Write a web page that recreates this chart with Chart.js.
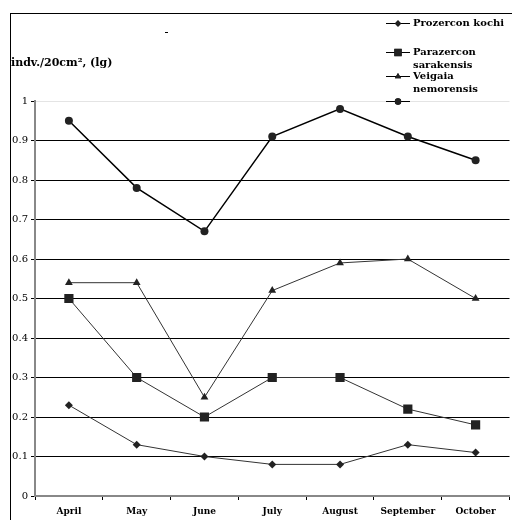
<!DOCTYPE html>
<html>
<head>
<meta charset="utf-8">
<script src="https://cdn.jsdelivr.net/npm/chart.js@4"></script>
<style>
  html, body { margin: 0; padding: 0; background: #fff; overflow: hidden; }
  #wrap { width: 516px; height: 520px; }
</style>
</head>
<body>
<div id="wrap"><canvas id="chart" width="516" height="520"></canvas></div>
<script>
// data
const months = ["April", "May", "June", "July", "August", "September", "October"]
const prozercon = [0.23, 0.13, 0.10, 0.08, 0.08, 0.13, 0.11]
const parazercon = [0.50, 0.30, 0.20, 0.30, 0.30, 0.22, 0.18]
const veigaia = [0.54, 0.54, 0.25, 0.52, 0.59, 0.60, 0.50]
const fourth = [0.95, 0.78, 0.67, 0.91, 0.98, 0.91, 0.85]
const seriesNames = [["Prozercon kochi"], ["Parazercon", "sarakensis"], ["Veigaia", "nemorensis"], [""]]
const yTitle = "indv./20cm², (lg)"

const serif = "'DejaVu Serif', 'Liberation Serif', serif"

// frame, axis title, legend
const decor = {
  id: "decor",
  beforeDraw(chart) {
    const ctx = chart.ctx
    ctx.save()
    ctx.strokeStyle = "#000"
    ctx.lineWidth = 1
    ctx.strokeRect(10.5, 13.5, 600, 600)
    ctx.fillStyle = "#000"
    ctx.fillRect(165, 32, 3, 1)
    ctx.restore()
  },
  afterDraw(chart) {
    const ctx = chart.ctx
    ctx.save()
    ctx.fillStyle = "#000"
    ctx.font = "bold 11px " + serif
    ctx.textBaseline = "middle"
    ctx.fillText(yTitle, 11, 63)

    const rows = [23, 52, 76, 101]
    chart.data.datasets.forEach((ds, i) => {
      const y = rows[i]
      ctx.strokeStyle = "#000"
      ctx.lineWidth = 1
      ctx.beginPath()
      ctx.moveTo(386, y + 0.5)
      ctx.lineTo(410, y + 0.5)
      ctx.stroke()
      Chart.helpers.drawPoint(ctx, {
        pointStyle: ds.pointStyle, radius: ds.pointRadius * 0.8, rotation: 0, borderWidth: 0
      }, 398, y + 0.5)
      ctx.fillStyle = "#222"
      ctx.fill()
      ctx.fillStyle = "#000"
      ctx.font = "bold 10px " + serif
      seriesNames[i].forEach((t, k) => ctx.fillText(t, 413, y + k * 13))
    })
    ctx.restore()
  }
}

function series(data, style, radius, color, width) {
  return {
    data: data,
    borderColor: color,
    borderWidth: width,
    pointStyle: style,
    pointRadius: radius,
    pointBackgroundColor: "#222",
    pointBorderColor: "#222",
    pointBorderWidth: 0,
    tension: 0,
    fill: false
  }
}

new Chart(document.getElementById("chart"), {
  type: "line",
  data: {
    labels: months,
    datasets: [
      series(prozercon, "rectRot", 4, "#333", 1),
      series(parazercon, "rect", 6.5, "#333", 1),
      series(veigaia, "triangle", 4.5, "#333", 1),
      series(fourth, "circle", 4, "#000", 1.5)
    ]
  },
  options: {
    responsive: false,
    animation: false,
    layout: { padding: { top: 101, left: 0, right: 0, bottom: 0 } },
    plugins: { legend: { display: false }, tooltip: { enabled: false } },
    scales: {
      x: {
        offset: true,
        afterFit(s) { s.height = 24 },
        grid: { offset: true, drawOnChartArea: false, drawTicks: true, tickLength: 4, tickColor: "#000" },
        border: { color: "#888", width: 2 },
        ticks: { color: "#000", padding: 6, font: { family: serif, size: 9, weight: "bold" } }
      },
      y: {
        min: 0,
        max: 1,
        afterFit(s) { s.width = 35 },
        grid: {
          color: (c) => c.tick.value === 1 ? "#e4e4e4" : (c.tick.value === 0 ? "rgba(0,0,0,0)" : "#000"),
          lineWidth: 1,
          tickLength: 4,
          tickColor: "#000"
        },
        border: { color: "#888", width: 2 },
        ticks: {
          stepSize: 0.1,
          color: "#000",
          padding: 3,
          font: { family: serif, size: 10 },
          callback: (v) => Math.round(v * 10) / 10
        }
      }
    }
  },
  plugins: [decor]
})
</script>
</body>
</html>
